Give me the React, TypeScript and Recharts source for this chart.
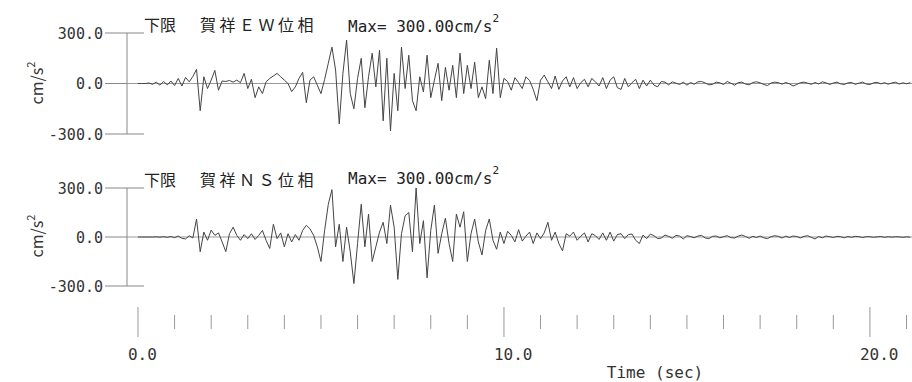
import React from "react";
import { Line, LineChart, ReferenceLine, XAxis, YAxis } from "recharts";

// sample interval of the records (sec)
const DT = 0.1;

// 賀祥 EW, cm/s^2, one value per DT from t = 0.0
const EW_VALUES = [
  0, 0, 0, 3, -5, 8, -10, 12, -8, 15,
  -12, 30, -15, 36, 10, 42, 84, -162, 40, -30,
  20, 78, -40, 15, 12, 18, 8, 20, 5, 60,
  -30, 25, -84, -20, -60, 10, 30, 45, 60, 40,
  20, 0, -48, -20, 30, 66, -114, 20, 40, -10,
  -60, 24, 120, 216, 80, -240, 60, 258, -60, -150,
  30, 150, -144, 40, 180, -20, 198, -222, 150, -282,
  60, -162, 216, -30, 168, -102, -162, 40, -50, 168,
  -84, 20, 120, -102, 96, -40, 108, -84, 180, -60,
  108, -30, 126, -84, -20, -90, 138, -60, 210, -84,
  30, 12, -40, 35, 5, -30, 40, 18, -35, -102,
  20, 50, 10, -30, 45, -35, 15, 40, -20, 35,
  -30, 5, 25, -20, 30, 10, -15, 35, -30, 20,
  40, -25, -35, 30, -20, 5, 25, -30, 20, -15,
  20, -10, -20, 12, 8, -8, 10, 2, -6, 8,
  -10, 6, -4, 10, 12, 3, -8, -5, 8, 4,
  -6, 12, 2, -10, 5, 8, -3, -8, 6, 10,
  4, -6, -12, 3, 8, 5, -4, 6, -2, -15,
  -6, 5, 8, 2, -5, 6, -3, 10, 4, -6,
  3, 8, -2, -6, 4, 6, -5, 2, 8, -3,
  -6, 4, 7, -2, 5, -4, 3, 8, -3, 4,
  -2, 5,
];

// 賀祥 NS, cm/s^2
const NS_VALUES = [
  0, 0, 0, 0, 0, 1, -1, 2, -2, 3,
  -4, 6, -8, -12, 8, -6, 110, -90, 30, -20,
  42, 10, 25, -30, -90, 20, 60, 10, -20, 15,
  -10, 20, -15, 10, 40, -20, -70, 78, -10, 25,
  -60, 20, -30, 15, -20, 40, 72, 50, 10, -60,
  -150, 40, 200, 290, -60, 78, -150, 60, -90, -285,
  -40, 200, -60, 140, -150, -60, 30, 90, -40, 195,
  60, -260, 20, 130, 150, -90, 300, -40, 100, -250,
  40, 195, -100, 20, 115, -40, -150, 140, 60, 155,
  -150, 20, 110, -30, -110, 40, 110, -20, -75, 30,
  -40, 35, 10, -30, 45, -25, 5, 30, -40, 25,
  -10, 25, 90, -20, 30, -40, -85, 20, 5, 30,
  -20, 5, 25, -30, 20, 8, -15, 25, -20, 30,
  -25, 15, 20, -10, 15, 18, -20, -40, 12, -10,
  18, 8, -10, -6, 12, 4, -8, 10, 6, -12,
  8, 3, -5, 6, 10, -6, -10, 4, 6, -5,
  2, 8, -4, -6, 5, 12, 3, -8, 4, -3,
  6, -5, -10, 2, 8, 4, -6, 5, -3, 6,
  3, -6, 4, 8, -2, -12, 3, -5, 6, 2,
  -3, 4, 2, -5, 3, -2, 4, 2, -3, 2,
  2, -2, 1, 3, -2, 2, -1, 2, 1, -2,
  1, -1,
];

const Y_TICKS = [-300, 0, 300];
const TIME_TICKS = [0, 1, 2, 3, 4, 5, 6, 7, 8, 9, 10, 11, 12, 13, 14, 15, 16, 17, 18, 19, 20, 21];
const MAJOR_TICKS = [0, 10, 20];
const TIME_DOMAIN = [-0.3, 21.15];

const MONO = "'DejaVu Sans Mono', monospace";
const JP = "'Noto Sans CJK JP', sans-serif";

const toSeries = (values: number[]) =>
  values.map((v, i) => ({ t: Math.round(i * DT * 10) / 10, v }));

const ewData = toSeries(EW_VALUES);
const nsData = toSeries(NS_VALUES);

function AmpTick({ x, y, payload }: any) {
  const right = payload.value === 0 ? 0 : 17;
  return (
    <g>
      <line x1={x - 22} x2={x + right} y1={y} y2={y} stroke="#888" />
      <text x={x - 24} y={y + 5.5} textAnchor="end" fontSize={15} fontFamily={MONO} fill="#333">
        {payload.value.toFixed(1)}
      </text>
    </g>
  );
}

function TimeTick({ x, y, payload }: any) {
  const major = MAJOR_TICKS.includes(payload.value);
  return (
    <g>
      <line x1={x} x2={x} y1={major ? y + 21 : y + 29} y2={major ? y + 51 : y + 43} stroke="#999" />
      {major && (
        <text x={x - 10} y={y + 74} fontSize={16} fontFamily={MONO} fill="#333">
          {payload.value.toFixed(1)}
        </text>
      )}
    </g>
  );
}

function Trace({ data, height, top, withTime }: { data: any[]; height: number; top: number; withTime?: boolean }) {
  return (
    <LineChart width={912} height={height} data={data} margin={{ top, right: 0, bottom: withTime ? 0 : 16, left: 27 }}>
      <XAxis
        dataKey="t"
        type="number"
        domain={TIME_DOMAIN}
        allowDataOverflow
        ticks={TIME_TICKS}
        interval={0}
        hide={!withTime}
        height={96}
        axisLine={false}
        tickLine={false}
        tickSize={0}
        tickMargin={0}
        tick={<TimeTick />}
      />
      <YAxis
        type="number"
        domain={[-300, 300]}
        ticks={Y_TICKS}
        interval={0}
        width={100}
        tickSize={0}
        tickMargin={0}
        tickLine={false}
        axisLine={{ stroke: "#888" }}
        tick={<AmpTick />}
      />
      <ReferenceLine y={0} stroke="#999" />
      <Line dataKey="v" stroke="#444" strokeWidth={1} dot={false} isAnimationActive={false} />
    </LineChart>
  );
}

function UnitLabel({ cy }: { cy: number }) {
  return (
    <text transform={`translate(43, ${cy}) rotate(-90)`} textAnchor="middle" fontSize={16} fontFamily={JP} fill="#333">
      cm/s<tspan dy={-8} fontSize={11}>2</tspan>
    </text>
  );
}

export default function App() {
  return (
    <div style={{ position: "absolute", left: 0, top: 0, width: 912, height: 382, background: "#fff" }}>
      <div style={{ position: "absolute", left: 0, top: 0 }}>
        <Trace data={ewData} height={150} top={33} />
      </div>
      <div style={{ position: "absolute", left: 0, top: 150 }}>
        <Trace data={nsData} height={232} top={38} withTime />
      </div>
      <svg width={912} height={382} style={{ position: "absolute", left: 0, top: 0, pointerEvents: "none" }}>
        <text x={144} y={31} fontSize={16} fontFamily={JP} fill="#222">下限</text>
        <text x={200} y={31} fontSize={16} fontFamily={JP} fill="#222" letterSpacing={3.5}>賀祥ＥＷ位相</text>
        <text x={348} y={32} fontSize={16} fontFamily={MONO} fill="#222">
          Max= 300.00cm/s<tspan dy={-10} fontSize={11}>2</tspan>
        </text>
        <text x={144} y={186} fontSize={16} fontFamily={JP} fill="#222">下限</text>
        <text x={200} y={186} fontSize={16} fontFamily={JP} fill="#222" letterSpacing={3.5}>賀祥ＮＳ位相</text>
        <text x={348} y={184} fontSize={16} fontFamily={MONO} fill="#222">
          Max= 300.00cm/s<tspan dy={-10} fontSize={11}>2</tspan>
        </text>
        <UnitLabel cy={83} />
        <UnitLabel cy={236} />
        <text x={655} y={378} textAnchor="middle" fontSize={16} fontFamily={MONO} fill="#333">Time (sec)</text>
      </svg>
    </div>
  );
}
